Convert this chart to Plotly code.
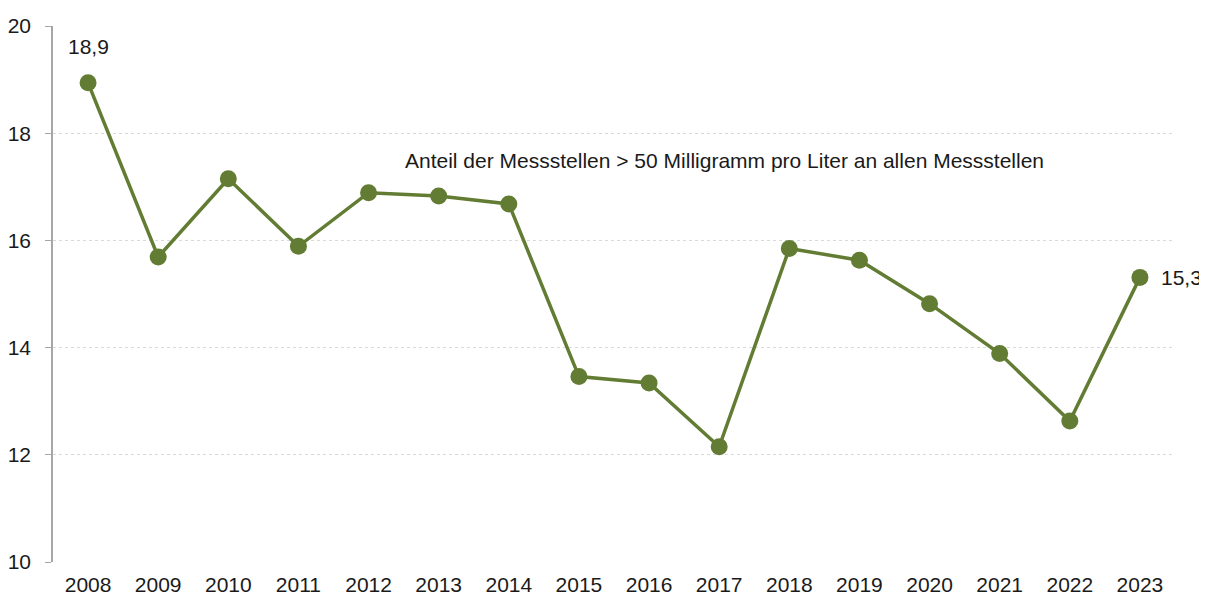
import plotly.graph_objects as go

years = [str(y) for y in range(2008, 2024)]
values = [18.94, 15.69, 17.15, 15.89, 16.89, 16.83, 16.68, 13.46, 13.34, 12.15,
          15.85, 15.63, 14.82, 13.89, 12.63, 15.31]
y_ticks = [10, 12, 14, 16, 18, 20]
series_label = "Anteil der Messstellen > 50 Milligramm pro Liter an allen Messstellen"

green = "#627d33"
font = "Liberation Sans, Arial, sans-serif"
fs = 21

fig = go.Figure()
fig.add_trace(go.Scatter(
    x=years, y=values, mode="lines+markers",
    line=dict(color=green, width=3.5),
    marker=dict(color=green, size=17),
    showlegend=False, hoverinfo="x+y",
))

def fmt(v):
    return f"{v:.1f}".replace(".", ",")

fig.add_annotation(x=0, y=values[0], text=fmt(values[0]), showarrow=False,
                   yshift=36, font=dict(size=fs, color="#1a1a1a", family=font))
fig.add_annotation(x=len(years) - 1, y=values[-1], text=fmt(values[-1]), showarrow=False,
                   xanchor="left", xshift=19, font=dict(size=fs, color="#1a1a1a", family=font))
fig.add_annotation(xref="paper", x=0.312, y=17.5, text=series_label, showarrow=False,
                   xanchor="left", yanchor="middle",
                   font=dict(size=fs, color="#1a1a1a", family=font))

# page body has an 8px default margin, so the figure is sized to end at the window edge
fig.update_layout(
    width=1199, height=589,
    margin=dict(l=45, r=32, t=18, b=35),
    paper_bgcolor="white", plot_bgcolor="white",
    font=dict(family=font, size=fs, color="#1a1a1a"),
    xaxis=dict(type="category", range=[-0.5, 15.5], showgrid=False,
               showline=False, ticks="", ticklabelstandoff=8,
               automargin=False, tickfont=dict(size=fs)),
    yaxis=dict(range=[10, 20], tickvals=y_ticks, showgrid=True,
               gridcolor="#d9d9d9", griddash="dot", gridwidth=1,
               showline=True, linecolor="#a6a6a6", linewidth=1.5,
               ticks="outside", ticklen=6, tickcolor="#a6a6a6",
               ticklabelstandoff=10, automargin=False,
               zeroline=False, tickfont=dict(size=fs)),
)

fig.write_html("out.html")
